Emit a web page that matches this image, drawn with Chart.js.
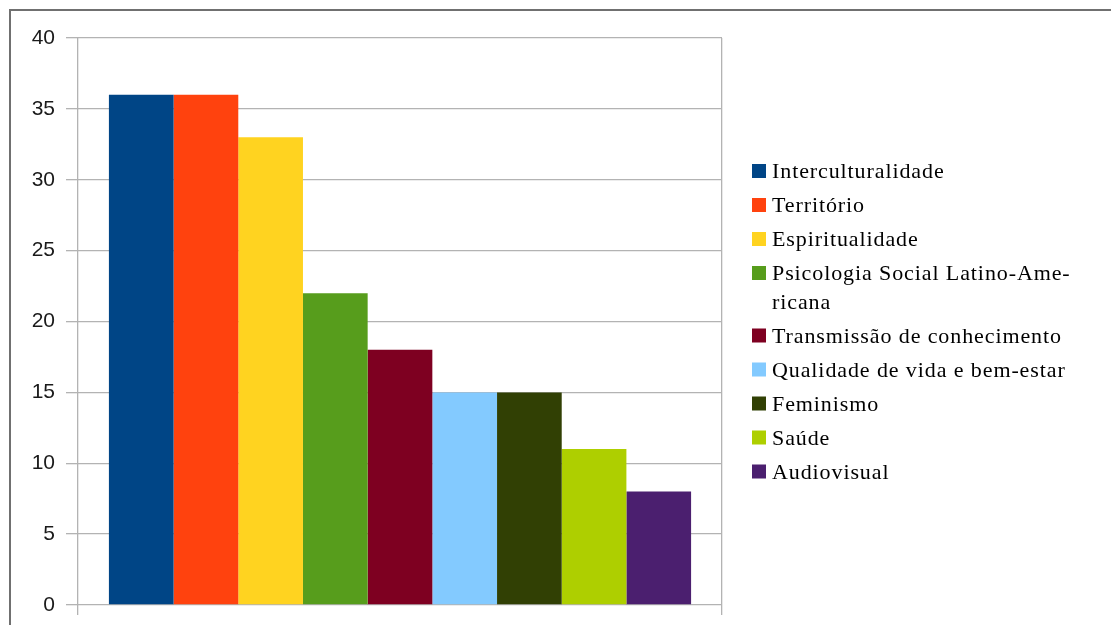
<!DOCTYPE html>
<html>
<head>
<meta charset="utf-8">
<script src="https://cdn.jsdelivr.net/npm/chart.js@4/dist/chart.umd.min.js"></script>
<style>
  html, body { margin: 0; padding: 0; background: #fff; }
  #wrap { position: relative; width: 1111px; height: 625px; overflow: hidden; }
  #frame { position: absolute; left: 9px; top: 9px; width: 1200px; height: 700px;
           border-top: 2px solid #707070; border-left: 2px solid #707070; box-sizing: border-box; }
  canvas { position: absolute; left: 0; top: 0; }
</style>
</head>
<body>
<div id="wrap">
  <div id="frame"></div>
  <canvas id="c" width="1111" height="625"></canvas>
</div>
<script>
const categories = [""];
const seriesNames = [
  "Interculturalidade",
  "Território",
  "Espiritualidade",
  "Psicologia Social Latino-Americana",
  "Transmissão de conhecimento",
  "Qualidade de vida e bem-estar",
  "Feminismo",
  "Saúde",
  "Audiovisual"
];
const legendLines = [
  ["Interculturalidade"],
  ["Território"],
  ["Espiritualidade"],
  ["Psicologia Social Latino-Ame-", "ricana"],
  ["Transmissão de conhecimento"],
  ["Qualidade de vida e bem-estar"],
  ["Feminismo"],
  ["Saúde"],
  ["Audiovisual"]
];
const seriesValues = [36, 36, 33, 22, 18, 15, 15, 11, 8];
const seriesColors = ["#004586", "#ff420e", "#ffd320", "#579d1c", "#7e0021", "#83caff", "#314004", "#aecf00", "#4b1f6f"];
const yTicks = [0, 5, 10, 15, 20, 25, 30, 35, 40];

const customLegend = {
  id: 'customLegend',
  afterDraw(chart) {
    const ctx = chart.ctx;
    ctx.save();
    ctx.font = '22px "Liberation Serif", "Times New Roman", serif';
    if ('letterSpacing' in ctx) ctx.letterSpacing = '0.9px';
    ctx.textBaseline = 'middle';
    ctx.textAlign = 'left';
    let y = 171.5;
    chart.data.datasets.forEach((ds, i) => {
      ctx.fillStyle = ds.backgroundColor;
      ctx.fillRect(752, y - 7.5, 14, 14);
      ctx.fillStyle = '#000';
      const lines = legendLines[i];
      lines.forEach((ln, j) => {
        ctx.fillText(ln, 772, y + 1 + j * 28.5);
      });
      y += 34 + (lines.length - 1) * 28.5;
    });
    ctx.restore();
  }
};

new Chart(document.getElementById('c'), {
  type: 'bar',
  data: {
    labels: categories,
    datasets: seriesNames.map((n, i) => ({
      label: n,
      data: [seriesValues[i]],
      backgroundColor: seriesColors[i],
      borderWidth: 0
    }))
  },
  options: {
    responsive: false,
    animation: false,
    devicePixelRatio: 1,
    layout: { padding: { left: 0, top: 38, right: 389, bottom: 0 } },
    plugins: { legend: { display: false }, tooltip: { enabled: false } },
    datasets: { bar: { categoryPercentage: 0.904, barPercentage: 1.0 } },
    scales: {
      x: {
        grid: { display: true, offset: true, color: '#b3b3b3', lineWidth: 1.3, tickLength: 10, drawTicks: true },
        border: { display: false },
        ticks: { display: false },
        afterFit(scale) { scale.height = 20; scale.paddingLeft = 0; scale.paddingRight = 0; }
      },
      y: {
        min: 0, max: 40,
        afterBuildTicks(scale) { scale.ticks = yTicks.map(v => ({ value: v })); },
        grid: { color: '#b3b3b3', lineWidth: 1.3, tickLength: 12, drawTicks: true },
        border: { display: false },
        ticks: {
          padding: 11,
          color: '#1a1a1a',
          font: { family: '"Liberation Sans", Arial, sans-serif', size: 21 }
        },
        afterFit(scale) { scale.width = 78; scale.paddingTop = 0; scale.paddingBottom = 0; }
      }
    }
  },
  plugins: [customLegend]
});
</script>
</body>
</html>
